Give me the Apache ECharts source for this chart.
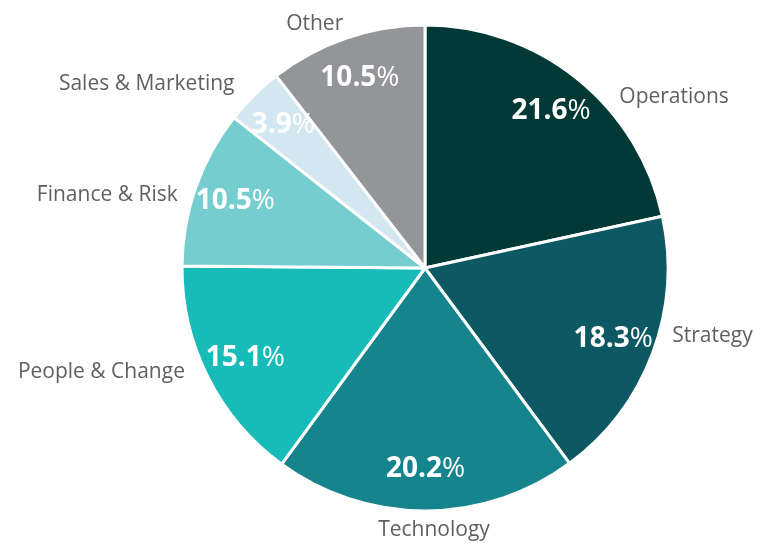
<!DOCTYPE html>
<html>
<head>
<meta charset="utf-8">
<script src="https://cdn.jsdelivr.net/npm/echarts@6/dist/echarts.min.js"></script>
<style>
  html, body { margin: 0; padding: 0; background: #fff; }
  #chart { width: 760px; height: 543px; }
</style>
</head>
<body>
<div id="chart"></div>
<script>
const categories = ["Operations", "Strategy", "Technology", "People & Change", "Finance & Risk", "Sales & Marketing", "Other"];
const shares = [21.6, 18.3, 20.2, 15.1, 10.5, 3.9, 10.5];
const colors = ["#013936", "#0c5964", "#15848d", "#17bbb8", "#76cdd0", "#d3e7f1", "#939598"];

const font = "'Open Sans', 'Noto Sans', sans-serif";
const center = [425, 268];
const radius = 243;

// small hand nudges so the outer names sit where the original put them
const nudge = {
  "Operations": { dx: 30, dy: 33 },
  "Strategy": { dx: 2, dy: -24 },
  "People & Change": { dx: -6, dy: -14 },
  "Finance & Risk": { dx: 0, dy: 14 },
  "Sales & Marketing": { dx: -6, dy: 2 },
  "Other": { dx: 3, dy: 4 }
};

const data = categories.map((name, i) => ({
  name: name,
  value: shares[i],
  itemStyle: { color: colors[i] }
}));

const chart = echarts.init(document.getElementById("chart"));
chart.setOption({
  animation: false,
  series: [
    {
      type: "pie",
      center: center,
      radius: radius,
      startAngle: 90,
      clockwise: true,
      data: data,
      itemStyle: { borderColor: "#fff", borderWidth: 3 },
      label: {
        show: true,
        position: "outside",
        formatter: "{b}",
        color: "#5f6062",
        fontFamily: font,
        fontSize: 21,
        overflow: "none",
        edgeDistance: 0,
        distanceToLabelLine: 0
      },
      labelLine: { show: false, length: 19, length2: 0 },
      labelLayout: p => {
        const name = categories[p.dataIndex];
        if (name === "Technology") {
          return { x: center[0] + 9, align: "center" };
        }
        return nudge[name] || {};
      },
      emphasis: { disabled: true }
    },
    {
      type: "pie",
      center: center,
      radius: [radius * 0.63, radius],
      startAngle: 90,
      clockwise: true,
      silent: true,
      data: data.map(d => ({ name: d.name, value: d.value })),
      itemStyle: { color: "transparent", borderWidth: 0 },
      label: {
        show: true,
        position: "inside",
        formatter: p => "{b|" + p.value.toFixed(1) + "}{p|%}",
        rich: {
          b: { color: "#fff", fontFamily: font, fontWeight: "bold", fontSize: 28 },
          p: { color: "#fff", fontFamily: font, fontSize: 28 }
        }
      },
      labelLine: { show: false },
      emphasis: { disabled: true }
    }
  ]
});
</script>
</body>
</html>
